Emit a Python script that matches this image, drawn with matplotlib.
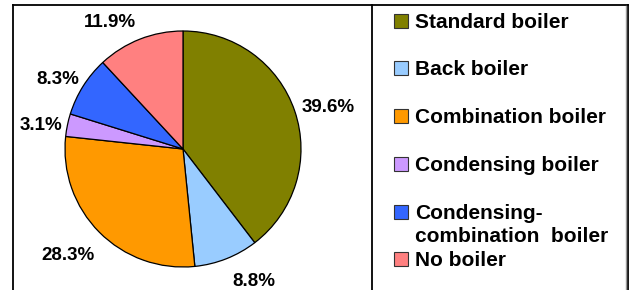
import matplotlib
matplotlib.use("Agg")
import matplotlib.pyplot as plt
from matplotlib.patches import Rectangle
from matplotlib.lines import Line2D

plt.rcParams['font.family'] = ['Liberation Sans', 'DejaVu Sans']
plt.rcParams['font.weight'] = 'bold'

# data
labels = ['Standard boiler', 'Back boiler', 'Combination boiler',
          'Condensing boiler', 'Condensing-\ncombination  boiler', 'No boiler']
shares = [39.6, 8.8, 28.3, 3.1, 8.3, 11.9]
colors = ['#808000', '#99CCFF', '#FF9900', '#CC99FF', '#3366FF', '#FF8080']

# where the percentage labels sit (pixel centres, from top-left)
label_px = [(328, 105), (253.5, 279), (68.5, 252.5), (40.5, 123.5), (57.5, 77), (109.5, 20)]

W, H = 629, 290
fig = plt.figure(figsize=(W / 100, H / 100), dpi=100)


def fx(x):
    return x / W


def fy(y):
    return 1 - y / H


# pie, centre (183,149) px, radius 118 px
cx, cy, r = 183, 149, 118
ax = fig.add_axes([fx(cx - r), fy(cy + r), 2 * r / W, 2 * r / H])
wedges, _, autotexts = ax.pie(shares, colors=colors, startangle=90, counterclock=False,
                              autopct='%.1f%%', pctdistance=1.27, radius=1,
                              wedgeprops=dict(edgecolor='black', linewidth=0.9),
                              textprops=dict(fontsize=13.5, fontweight='bold'))
for t, (px, py) in zip(autotexts, label_px):
    t.set_position(((px - cx) / r, (cy - py - 7) / r))
    t.set_va('baseline')
    t.set_clip_on(False)
ax.set_xlim(-1, 1)
ax.set_ylim(-1, 1)
ax.axis('off')

# frame lines
k = dict(transform=fig.transFigure, color='black', linewidth=1.3)
fig.add_artist(Line2D([fx(13), fx(628)], [fy(5), fy(5)], **k))
fig.add_artist(Line2D([fx(13), fx(13)], [fy(5), fy(300)], **k))
fig.add_artist(Line2D([fx(372), fx(372)], [fy(5), fy(300)], **k))
fig.add_artist(Line2D([fx(628), fx(628)], [fy(5), fy(300)], **k))
fig.add_artist(Line2D([fx(625.5), fx(625.5)], [fy(6), fy(300)],
                      transform=fig.transFigure, color='#999999', linewidth=1.0))

# legend
for i, (lab, col) in enumerate(zip(labels, colors)):
    base = 27.7 + 47.7 * i
    fig.add_artist(Rectangle((fx(394), fy(base)), 14 / W, 14 / H, transform=fig.transFigure,
                             facecolor=col, edgecolor='#333333', linewidth=0.8))
    extra = 24 * lab.count('\n')
    fig.text(fx(415), fy(base + extra), lab, fontsize=15, fontweight='bold',
             va='baseline', ha='left', linespacing=1.28)

fig.savefig('out.png', dpi=100)
